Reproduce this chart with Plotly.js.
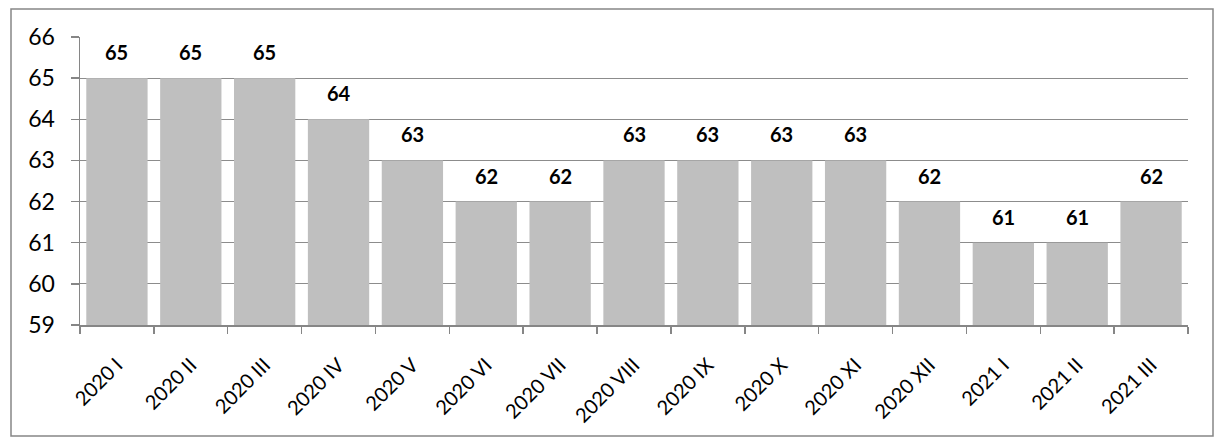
<!DOCTYPE html>
<html>
<head>
<meta charset="utf-8">
<script src="https://cdn.plot.ly/plotly-3.0.1.min.js"></script>
<style>html,body{margin:0;padding:0;background:#fff;}#chart{width:1221px;height:443px;}</style>
</head>
<body>
<div id="chart"></div>
<script>
const categories = ["2020 I","2020 II","2020 III","2020 IV","2020 V","2020 VI","2020 VII","2020 VIII","2020 IX","2020 X","2020 XI","2020 XII","2021 I","2021 II","2021 III"];
const values = [65,65,65,64,63,62,62,63,63,63,63,62,61,61,62];
const yTicks = [59,60,61,62,63,64,65,66];
const yMin = 59;

const W = 1221, H = 443;
const mL = 80, mR = 33, mT = 37, mB = 118;
const pw = W - mL - mR, ph = H - mT - mB;
const px = x => (x - mL) / pw;
const py = y => (H - mB - y) / ph;
const FONT = "Lato, 'Liberation Sans', sans-serif";

const trace = {
  type: "bar",
  x: categories,
  y: values.map(v => v - yMin),
  base: yMin,
  marker: {color: "#bfbfbf", line: {width: 0}},
  hoverinfo: "x+y"
};

const annotations = categories.map((c, i) => ({
  x: c, y: values[i], xref: "x", yref: "y",
  text: "<b>" + values[i] + "</b>",
  showarrow: false, yanchor: "bottom", yshift: 12,
  font: {family: FONT, size: 20, color: "#000"}
}));

const layout = {
  width: W, height: H,
  margin: {l: mL, r: mR, t: mT, b: mB, pad: 0},
  paper_bgcolor: "#fff", plot_bgcolor: "#fff",
  showlegend: false,
  bargap: 0.17,
  font: {family: FONT, size: 20, color: "#000"},
  xaxis: {
    type: "category",
    tickangle: -45,
    ticks: "outside", ticklen: 7, tickcolor: "#868686", tickwidth: 1.5,
    tickson: "boundaries",
    showline: true, linecolor: "#868686", linewidth: 1.5,
    showgrid: false,
    tickfont: {size: 20},
    ticklabelstandoff: 19,
    range: [-0.5, categories.length - 0.5],
    fixedrange: true
  },
  yaxis: {
    range: [59, 66],
    tickvals: yTicks,
    ticktext: yTicks.map(String),
    ticks: "outside", ticklen: 8, tickcolor: "#868686", tickwidth: 1.5,
    showline: true, linecolor: "#868686", linewidth: 1.5,
    showgrid: true, gridcolor: "#8c8c8c", gridwidth: 1,
    zeroline: false,
    tickfont: {size: 23},
    ticklabelstandoff: 11,
    fixedrange: true
  },
  annotations: annotations,
  shapes: [{
    type: "rect", xref: "paper", yref: "paper",
    x0: px(11), x1: px(1213), y0: py(436), y1: py(9),
    line: {color: "#868686", width: 1.5}, fillcolor: "rgba(0,0,0,0)", layer: "below"
  }]
};

Plotly.newPlot("chart", [trace], layout, {displayModeBar: false, staticPlot: true});
</script>
</body>
</html>
